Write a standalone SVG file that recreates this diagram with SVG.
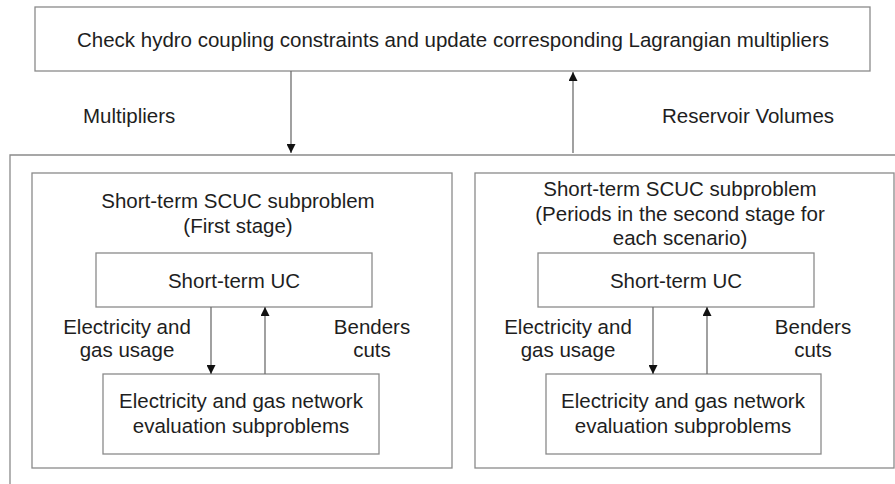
<svg xmlns="http://www.w3.org/2000/svg" width="895" height="484" viewBox="0 0 895 484">
  <defs>
    <marker id="arrow" viewBox="0 0 10 10" refX="10" refY="5" markerWidth="9" markerHeight="9" markerUnits="userSpaceOnUse" orient="auto">
      <path d="M0,0 L10,5 L0,10 z" fill="#111"/>
    </marker>
    <style>
      .box { fill: #fff; stroke: #8a8a8a; stroke-width: 1.3; }
      .frame { fill: none; stroke: #8a8a8a; stroke-width: 1.3; }
      .t { font-family: "Liberation Sans", Arial, sans-serif; font-size: 20.5px; fill: #1e1e1e; text-anchor: middle; }
      .tl { font-family: "Liberation Sans", Arial, sans-serif; font-size: 20.5px; fill: #1e1e1e; text-anchor: start; }
      .edge { stroke: #6e6e6e; stroke-width: 1.3; fill: none; marker-end: url(#arrow); }
    </style>
  </defs>
  <rect width="895" height="484" fill="#fff"/>

  <g id="master">
    <rect class="box" x="35" y="7" width="835" height="64"/>
    <text class="t" x="453" y="47">Check hydro coupling constraints and update corresponding Lagrangian multipliers</text>
  </g>

  <g id="subproblems-frame">
    <path class="frame" d="M10,484 L10,155 L895,155"/>
  </g>

  <g id="stage1">
    <rect class="box" x="32" y="173" width="420" height="295"/>
    <text class="t" x="238" y="208">Short-term SCUC subproblem</text>
    <text class="t" x="238" y="233">(First stage)</text>
  </g>
  <g id="uc1">
    <rect class="box" x="96" y="253" width="276" height="54"/>
    <text class="t" x="234" y="288">Short-term UC</text>
  </g>
  <g id="eval1">
    <rect class="box" x="103" y="374" width="276" height="80"/>
    <text class="t" x="241" y="408">Electricity and gas network</text>
    <text class="t" x="241" y="433">evaluation subproblems</text>
  </g>

  <g id="stage2">
    <rect class="box" x="475" y="173" width="419" height="295"/>
    <text class="t" x="680" y="196">Short-term SCUC subproblem</text>
    <text class="t" x="680" y="221">(Periods in the second stage for</text>
    <text class="t" x="680" y="245">each scenario)</text>
  </g>
  <g id="uc2">
    <rect class="box" x="538" y="253" width="276" height="54"/>
    <text class="t" x="676" y="288">Short-term UC</text>
  </g>
  <g id="eval2">
    <rect class="box" x="546" y="374" width="275" height="80"/>
    <text class="t" x="683" y="408">Electricity and gas network</text>
    <text class="t" x="683" y="433">evaluation subproblems</text>
  </g>

  <g id="connectors">
    <line class="edge" x1="291" y1="71" x2="291" y2="153"/>
    <line class="edge" x1="573" y1="153" x2="573" y2="72"/>
    <line class="edge" x1="211" y1="307" x2="211" y2="374"/>
    <line class="edge" x1="265" y1="374" x2="265" y2="307"/>
    <line class="edge" x1="653" y1="307" x2="653" y2="374"/>
    <line class="edge" x1="707" y1="374" x2="707" y2="307"/>

    <text class="tl" x="83" y="123">Multipliers</text>
    <text class="tl" x="662" y="123">Reservoir Volumes</text>

    <text class="t" x="127" y="334">Electricity and</text>
    <text class="t" x="127" y="357">gas usage</text>
    <text class="t" x="372" y="334">Benders</text>
    <text class="t" x="372" y="357">cuts</text>

    <text class="t" x="568" y="334">Electricity and</text>
    <text class="t" x="568" y="357">gas usage</text>
    <text class="t" x="813" y="334">Benders</text>
    <text class="t" x="813" y="357">cuts</text>
  </g>
</svg>
